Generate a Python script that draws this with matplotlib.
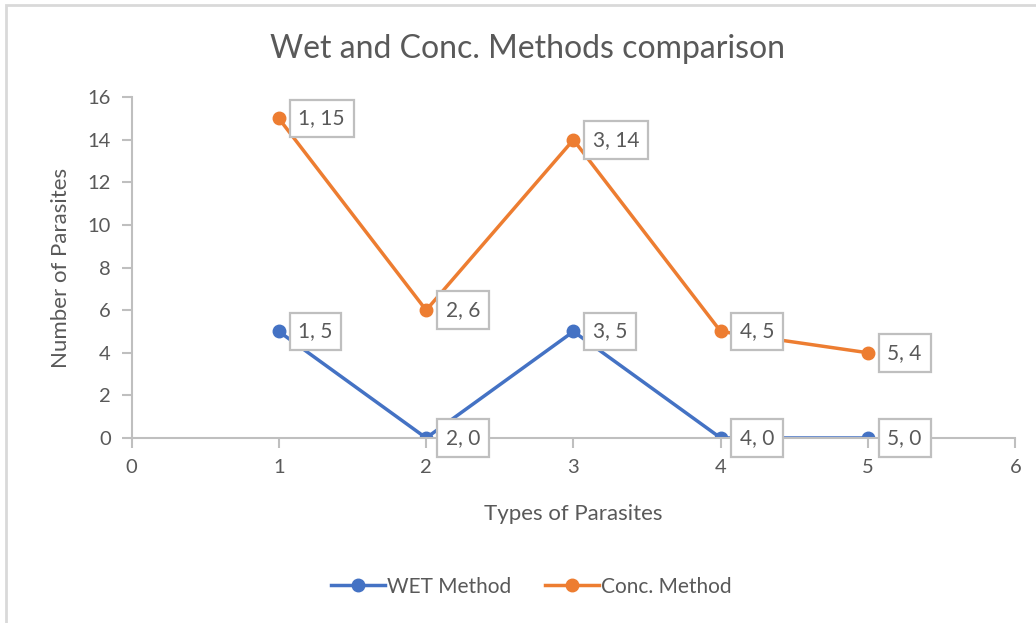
import matplotlib.pyplot as plt
from matplotlib.patches import Rectangle

plt.rcParams['font.family'] = ['Lato', 'DejaVu Sans']

types = [1, 2, 3, 4, 5]
wet = [5, 0, 5, 0, 0]
conc = [15, 6, 14, 5, 4]

blue = '#4472C4'
orange = '#ED7D31'
grey = '#595959'
axis_grey = '#BFBFBF'

fig = plt.figure(figsize=(10.36, 6.23), dpi=100)
fig.patches.append(Rectangle((0.006, -0.1), 1.1, 1.092, transform=fig.transFigure,
                             fill=False, edgecolor='#D9D9D9', linewidth=2))
ax = fig.add_axes([0.127, 0.297, 0.853, 0.547])

ax.plot(types, wet, color=blue, linewidth=2.5, marker='o', markersize=9, label='WET Method')
ax.plot(types, conc, color=orange, linewidth=2.5, marker='o', markersize=9, label='Conc. Method')

# data labels in boxes
for x, y in zip(types, wet):
    ax.annotate(f'{x}, {y}', (x, y), xytext=(14, 0), textcoords='offset points',
                ha='left', va='center', fontsize=15, color=grey,
                bbox=dict(boxstyle='square,pad=0.42', fc='white', ec=axis_grey, lw=1.6))
for x, y in zip(types, conc):
    ax.annotate(f'{x}, {y}', (x, y), xytext=(14, 0), textcoords='offset points',
                ha='left', va='center', fontsize=15, color=grey,
                bbox=dict(boxstyle='square,pad=0.42', fc='white', ec=axis_grey, lw=1.6))

ax.set_xlim(0, 6)
ax.set_ylim(0, 16)
ax.set_xticks(range(0, 7))
ax.set_yticks(range(0, 17, 2))
for s in ['top', 'right']:
    ax.spines[s].set_visible(False)
for s in ['left', 'bottom']:
    ax.spines[s].set_color(axis_grey)
    ax.spines[s].set_linewidth(1.5)
ax.tick_params(colors=axis_grey, width=1.5, length=7, labelcolor=grey, labelsize=14.5, pad=8)

fig.suptitle('Wet and Conc. Methods comparison', x=0.509, y=0.945, fontsize=23, color=grey)
ax.set_xlabel('Types of Parasites', fontsize=16, color=grey, labelpad=20)
ax.set_ylabel('Number of Parasites', fontsize=16, color=grey, labelpad=12)

fig.legend(loc='lower center', bbox_to_anchor=(0.513, 0.012), ncol=2, frameon=False,
           fontsize=15, labelcolor=grey, handlelength=2.6, columnspacing=1.6, handletextpad=0.1)

fig.savefig('out.png', dpi=100)
